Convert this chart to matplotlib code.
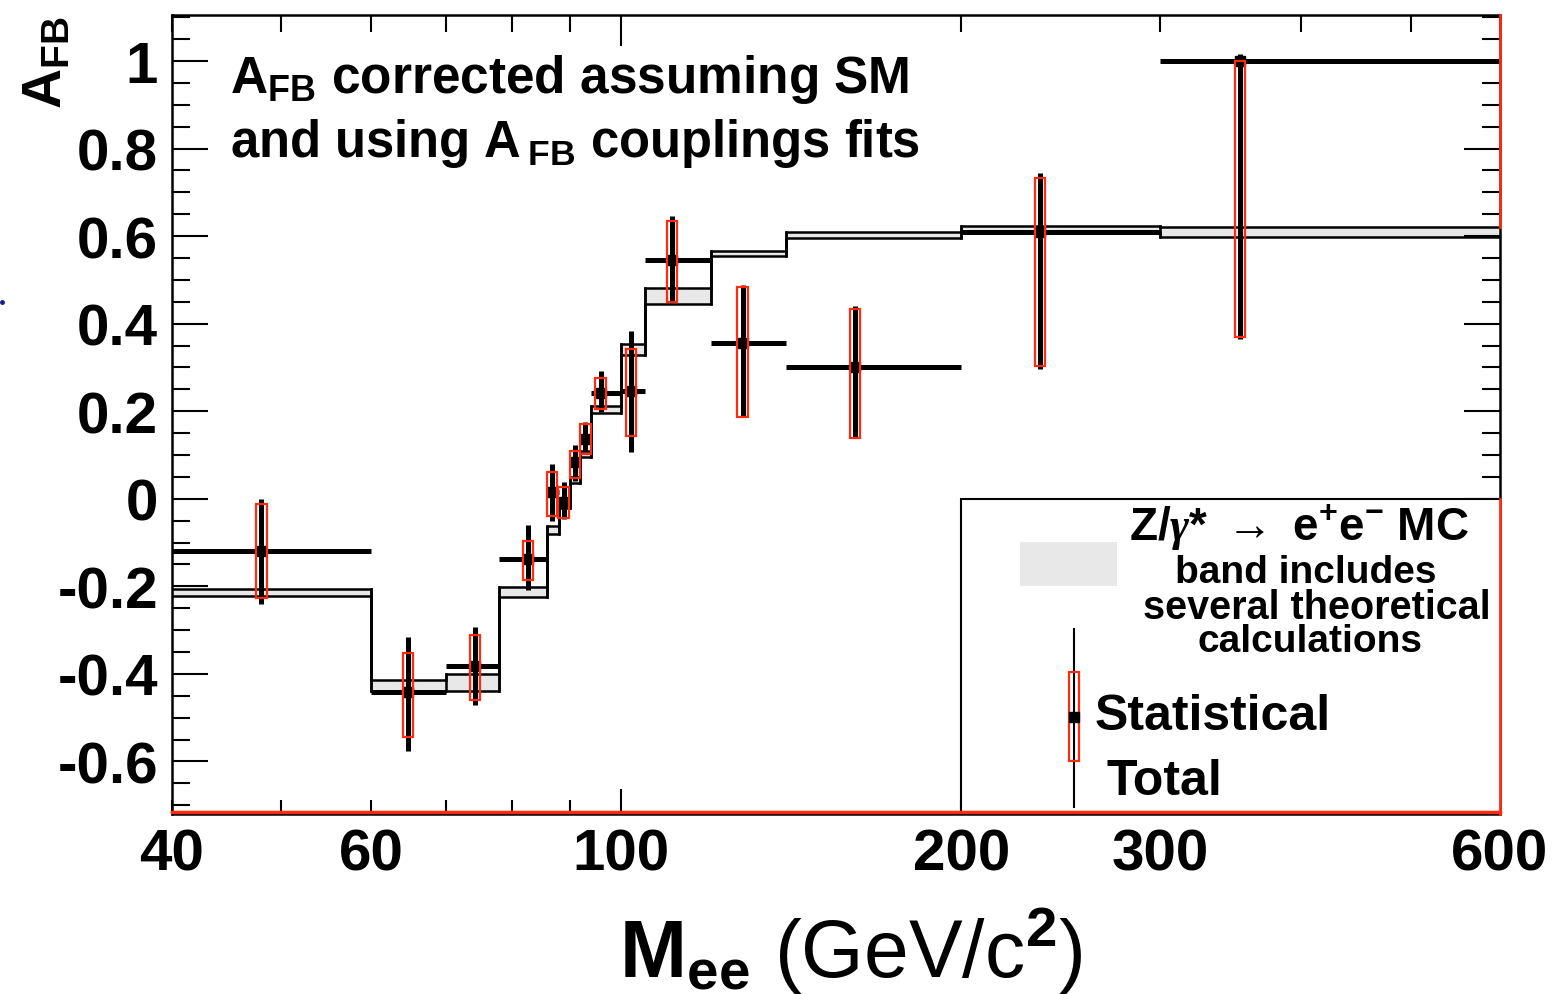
import numpy as np
import matplotlib.pyplot as plt
from matplotlib.patches import Rectangle
from matplotlib.lines import Line2D
from matplotlib.ticker import MultipleLocator, NullLocator

plt.rcParams['font.family'] = ['Liberation Sans', 'DejaVu Sans']
plt.rcParams['font.weight'] = 'bold'
plt.rcParams['mathtext.fontset'] = 'custom'
plt.rcParams['mathtext.rm'] = 'Liberation Sans'
plt.rcParams['mathtext.bf'] = 'Liberation Sans:bold'
plt.rcParams['mathtext.it'] = 'Liberation Serif:italic'
plt.rcParams['mathtext.default'] = 'bf'

# ------------------------------ Data ------------------------------

mass_edges = [40, 60, 70, 78, 86, 88, 90, 92, 94, 100, 105, 120, 140, 200, 300, 600]
mass_mean = [48.0, 64.7, 74.2, 82.7, 86.8, 88.9, 91.0, 92.9, 95.9, 102.0, 110.9, 128.1, 161.0, 234.9, 353.0]

afb = [-0.119, -0.441, -0.381, -0.137, 0.016, -0.007, 0.084, 0.137, 0.242, 0.246, 0.546, 0.356, 0.301, 0.609, 1.000]
tot_up = [0.119, 0.126, 0.089, 0.078, 0.064, 0.046, 0.039, 0.039, 0.050, 0.138, 0.100, 0.133, 0.139, 0.135, 0.016]
tot_dn = [0.121, 0.134, 0.091, 0.071, 0.066, 0.039, 0.043, 0.027, 0.044, 0.139, 0.094, 0.166, 0.162, 0.312, 0.635]
stat_up = [0.108, 0.089, 0.070, 0.041, 0.046, 0.034, 0.026, 0.034, 0.034, 0.096, 0.089, 0.128, 0.133, 0.124, 0.000]
stat_dn = [0.107, 0.102, 0.078, 0.048, 0.055, 0.036, 0.036, 0.034, 0.037, 0.102, 0.096, 0.169, 0.162, 0.305, 0.630]

# MC prediction band (envelope of the theory calculations) per mass bin
mc_low = [-0.222, -0.440, -0.440, -0.224, -0.080, -0.020, 0.035, 0.095, 0.195, 0.329, 0.445, 0.555, 0.596, 0.609, 0.598]
mc_high = [-0.205, -0.415, -0.401, -0.201, -0.062, -0.005, 0.050, 0.108, 0.212, 0.354, 0.482, 0.566, 0.610, 0.623, 0.621]

x_ticks = [40, 50, 60, 70, 80, 90, 100, 200, 300, 400, 500, 600]
x_tick_labels = ['40', '', '60', '', '', '', '100', '200', '300', '', '', '600']
y_ticks = [-0.6, -0.4, -0.2, 0.0, 0.2, 0.4, 0.6, 0.8, 1.0]
y_tick_labels = ['-0.6', '-0.4', '-0.2', '0', '0.2', '0.4', '0.6', '0.8', '1']

RED = '#ff2a10'
BAND = '#e8e8e8'

# ------------------------------ Plotting ------------------------------

fig = plt.figure(figsize=(15.64, 9.95), dpi=100)
ax = fig.add_axes([0.10997, 0.18090, 0.84910, 0.80302])
ax.set_xscale('log')
ax.set_xlim(40, 600)
ax.set_ylim(-0.72, 1.105)

edges = np.array(mass_edges, dtype=float)
lo = np.array(mc_low)
hi = np.array(mc_high)

# MC band with outlined upper/lower edges
ax.stairs(hi, edges, baseline=lo, fill=True, color=BAND, zorder=1)
ax.stairs(hi, edges, baseline=None, color='black', lw=1.8, zorder=2)
ax.stairs(lo, edges, baseline=None, color='black', lw=1.8, zorder=2)
for e, a, b in zip(edges[1:-1], np.maximum(hi[:-1], hi[1:]), np.minimum(lo[:-1], lo[1:])):
    ax.plot([e, e], [b, a], color='black', lw=1.8, zorder=2)

# legend frame sits in the lower right corner of the plot
ax.add_patch(Rectangle((200, -0.9), 2000, 0.9, facecolor='white',
                       edgecolor='black', lw=1.5, zorder=3))

# data: total errors (black) and statistical errors (red boxes)
x = np.array(mass_mean)
y = np.array(afb)
xerr = [x - edges[:-1], edges[1:] - x]
ax.errorbar(x, y, yerr=[tot_dn, tot_up], xerr=xerr, fmt='none',
            ecolor='black', elinewidth=3.6, capsize=0, zorder=5)
ax.plot(x, y, 's', color='black', ms=6.5, zorder=6)

hw = 0.0047  # half width of the stat boxes in decades
for xi, yi, su, sd in zip(x, y, stat_up, stat_dn):
    x0, x1 = xi / 10**hw, xi * 10**hw
    ax.add_patch(Rectangle((x0, yi - sd), x1 - x0, su + sd, fill=False,
                           edgecolor=RED, lw=1.6, zorder=7))

# ------------------------------ Axes styling ------------------------------

ax.set_xticks(x_ticks)
ax.set_xticklabels(x_tick_labels)
ax.xaxis.set_minor_locator(NullLocator())
ax.tick_params(axis='x', which='major', direction='in', top=True,
               length=10, width=1.5, labelsize=42, pad=10)
for val, tick in zip(x_ticks, ax.xaxis.get_major_ticks()):
    if val == 100:
        tick.tick1line.set_markersize(18)
        tick.tick2line.set_markersize(22)
    else:
        tick.tick2line.set_markersize(12)

ax.set_yticks(y_ticks)
ax.set_yticklabels(y_tick_labels)
ax.yaxis.set_minor_locator(MultipleLocator(0.05))
ax.tick_params(axis='y', which='major', direction='in', right=True,
               length=26, width=1.5, labelsize=42, pad=10)
ax.tick_params(axis='y', which='minor', direction='in', right=True,
               length=13, width=1.5)

for s in ax.spines.values():
    s.set_linewidth(1.8)

# red frame edges along the bottom and right
ax.plot([0, 1], [0.003, 0.003], transform=ax.transAxes, color=RED, lw=2.5,
        clip_on=False, zorder=10)
ax.plot([600, 600], [-0.72, 0.0], color=RED, lw=2.0, clip_on=False, zorder=10)
ax.plot([600, 600], [0.62, 1.105], color=RED, lw=2.0, clip_on=False, zorder=10)

fig.text(0.544, 0.018, r'$\mathbf{M}_{\mathbf{ee}}$ (GeV/c$^{\mathrm{2}}$)',
         fontsize=58, fontweight='normal', ha='center', va='baseline')
ax.text(-0.094, 1.0, r'$\mathbf{A}_{\mathbf{FB}}$', rotation=90,
        transform=ax.transAxes, ha='center', va='top', fontsize=40)

# header text
ax.text(0.0437, 0.92, r'$\mathbf{A}_{\mathbf{FB}}$ corrected assuming SM',
        transform=ax.transAxes, ha='left', va='center', fontsize=37, zorder=8)
ax.text(0.0437, 0.841, r'and using A$\,_{\mathbf{FB}}$ couplings fits',
        transform=ax.transAxes, ha='left', va='center', fontsize=36.5, zorder=8)

# legend contents
ax.add_patch(Rectangle((0.6386, 0.2854), 0.073, 0.055, transform=ax.transAxes,
                       facecolor=BAND, edgecolor='none', zorder=8))
ax.text(0.849, 0.360, r'Z/$\mathit{\gamma}$* $\rightarrow$ e$^{+}$e$^{-}$ MC',
        transform=ax.transAxes, ha='center', va='center', fontsize=33, zorder=8)
ax.text(0.854, 0.303, 'band includes', transform=ax.transAxes,
        ha='center', va='center', fontsize=28, zorder=8)
ax.text(0.862, 0.259, 'several theoretical', transform=ax.transAxes,
        ha='center', va='center', fontsize=28.5, zorder=8)
ax.text(0.857, 0.2165, 'calculations', transform=ax.transAxes,
        ha='center', va='center', fontsize=28, zorder=8)

ax.plot([0.679, 0.679], [0.0088, 0.2315], transform=ax.transAxes,
        color='black', lw=1.5, zorder=8)
ax.add_patch(Rectangle((0.6755, 0.0663), 0.0075, 0.1114, transform=ax.transAxes,
                       fill=False, edgecolor=RED, lw=1.6, zorder=9))
ax.plot([0.679], [0.1214], 's', color='black', ms=7, transform=ax.transAxes, zorder=9)
ax.text(0.695, 0.1227, 'Statistical', transform=ax.transAxes,
        ha='left', va='center', fontsize=36, zorder=8)
ax.text(0.704, 0.0413, 'Total', transform=ax.transAxes,
        ha='left', va='center', fontsize=36, zorder=8)

fig.add_artist(Line2D([0.001], [1 - 303 / 995], marker='o', ms=2.5,
                      color='#1a1a8c', transform=fig.transFigure))

plt.savefig('out.png', dpi=100)
